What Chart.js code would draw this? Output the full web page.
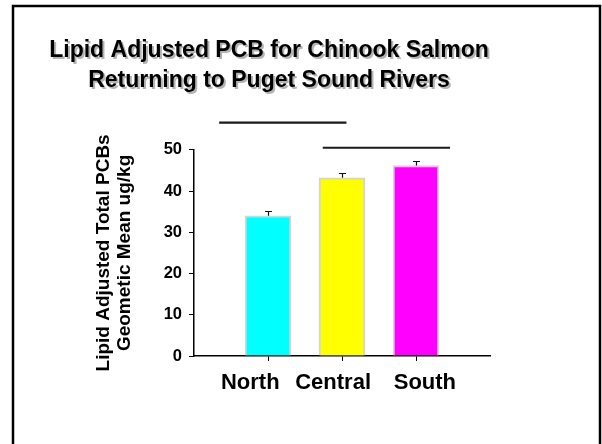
<!DOCTYPE html>
<html><head><meta charset="utf-8">
<script src="https://cdn.jsdelivr.net/npm/chart.js@4.4.1/dist/chart.umd.min.js"></script>
<style>html,body{margin:0;padding:0;background:#fff}#wrap{width:602px;height:444px;position:relative}</style>
</head><body><div id="wrap"><canvas id="c"></canvas></div>
<script>
// ---- data ----
const categories = ['North', 'Central', 'South'];
const positions = [1, 2, 3];
const geoMean = [34.0, 43.2, 46.2];
const upperError = [35.2, 44.4, 47.3];
const barColors = ['#00FFFF', '#FFFF00', '#FF00FF'];
const yTicks = [0, 10, 20, 30, 40, 50];
const sigLine1X = [0.34, 2.06];
const sigLine1Y = [56.6, 56.6];
const sigLine2X = [1.74, 3.46];
const sigLine2Y = [50.5, 50.5];
const titleLines = ['Lipid Adjusted PCB for Chinook Salmon', 'Returning to Puget Sound Rivers'];
const yTitleLines = ['Lipid Adjusted Total PCBs', 'Geometic Mean ug/kg'];

// layout-only: where the category captions sit under the axis (they are spread wider than the ticks)
const captionPositions = [0.76, 1.88, 3.12];

const FONT = 'Liberation Sans, Arial, Helvetica, sans-serif';

const framePlugin = {
  id: 'frame',
  beforeDraw(chart) {
    const ctx = chart.ctx;
    ctx.save();
    ctx.fillStyle = '#fff';
    ctx.fillRect(0, 0, chart.width, chart.height);
    ctx.strokeStyle = '#000';
    ctx.lineWidth = 2.5;
    ctx.strokeRect(13, 6, 587, 460);
    const tb = chart.titleBlock;
    if (tb) {
      const opts = tb.options;
      const f = Chart.helpers.toFont(opts.font);
      const pad = Chart.helpers.toPadding(opts.padding);
      const cx = (tb.left + tb.right) / 2;
      const y = tb.top + pad.top + f.lineHeight / 2;
      ctx.font = f.string;
      ctx.textAlign = 'center';
      ctx.textBaseline = 'middle';
      ctx.fillStyle = '#b4b4b4';
      titleLines.forEach((t, i) => ctx.fillText(t, cx + 2, y + i * f.lineHeight + 2, tb.right - tb.left));
    }
    ctx.restore();
  }
};

const errorPlugin = {
  id: 'errbars',
  afterDatasetsDraw(chart) {
    const ctx = chart.ctx;
    const xs = chart.scales.x, ys = chart.scales.y;
    ctx.save();
    ctx.strokeStyle = '#111';
    ctx.lineWidth = 1.2;
    positions.forEach((p, i) => {
      const x = Math.round(xs.getPixelForValue(p)) + 0.5;
      const y0 = ys.getPixelForValue(geoMean[i]);
      const y1 = Math.round(ys.getPixelForValue(upperError[i])) + 0.5;
      ctx.beginPath();
      ctx.moveTo(x, y0);
      ctx.lineTo(x, y1);
      ctx.moveTo(x - 3.5, y1);
      ctx.lineTo(x + 3.5, y1);
      ctx.stroke();
    });
    ctx.restore();
  }
};

new Chart(document.getElementById('c'), {
  type: 'bar',
  data: {
    datasets: [
      {
        type: 'bar',
        data: positions.map((x, i) => ({ x: x, y: geoMean[i] })),
        backgroundColor: barColors,
        borderColor: '#d4d4d4',
        borderWidth: { left: 2, right: 2, top: 2, bottom: 0 },
        borderSkipped: 'bottom',
        barThickness: 46,
        order: 2
      },
      {
        type: 'line',
        data: sigLine1X.map((x, i) => ({ x: x, y: sigLine1Y[i] })),
        borderColor: '#1a1a1a', borderWidth: 2.2, pointRadius: 0, clip: false, order: 1
      },
      {
        type: 'line',
        data: sigLine2X.map((x, i) => ({ x: x, y: sigLine2Y[i] })),
        borderColor: '#1a1a1a', borderWidth: 2.2, pointRadius: 0, clip: false, order: 1
      }
    ]
  },
  options: {
    responsive: true,
    maintainAspectRatio: false,
    animation: false,
    layout: { padding: { left: 48, right: 112, top: 0, bottom: 0 } },
    plugins: {
      legend: { display: false },
      tooltip: { enabled: false },
      title: {
        display: true,
        text: titleLines,
        color: '#000',
        font: { family: FONT, size: 23, weight: 'bold', lineHeight: 1.3 },
        padding: { top: 36, bottom: 54 }
      }
    },
    scales: {
      x: {
        type: 'linear',
        weight: 0,
        min: 0, max: 4,
        offset: false,
        afterBuildTicks(scale) { scale.ticks = positions.map(v => ({ value: v })); },
        afterFit(scale) { scale.height = 5; },
        ticks: { display: false },
        grid: { display: true, drawOnChartArea: false, offset: false, tickLength: 5, tickColor: '#000', tickWidth: 1 },
        border: { display: true, color: '#000', width: 1.5 }
      },
      xCaptions: {
        type: 'linear',
        position: 'bottom',
        weight: 1,
        min: 0, max: 4,
        offset: false,
        afterBuildTicks(scale) { scale.ticks = captionPositions.map(v => ({ value: v })); },
        afterFit(scale) { scale.height = 83; },
        ticks: {
          color: '#000',
          padding: 9,
          maxRotation: 0,
          autoSkip: false,
          font: { family: FONT, size: 22, weight: 'bold' },
          callback(v) { const i = captionPositions.indexOf(v); return i >= 0 ? categories[i] : ''; }
        },
        grid: { display: false, drawTicks: false },
        border: { display: false }
      },
      y: {
        type: 'linear',
        min: 0, max: 50,
        afterBuildTicks(scale) { scale.ticks = yTicks.map(v => ({ value: v })); },
        afterFit(scale) { scale.width = 146; },
        ticks: {
          color: '#000',
          padding: 7,
          font: { family: FONT, size: 16.5, weight: 'bold' }
        },
        grid: { display: true, drawOnChartArea: false, tickLength: 5, tickColor: '#000', tickWidth: 1 },
        border: { display: true, color: '#000', width: 1.5 },
        title: {
          display: true,
          text: yTitleLines,
          color: '#000',
          font: { family: FONT, size: 19, weight: 'bold', lineHeight: 1.1 },
          padding: { top: 45, bottom: 0 }
        }
      }
    }
  },
  plugins: [framePlugin, errorPlugin]
});
</script>
</body></html>
